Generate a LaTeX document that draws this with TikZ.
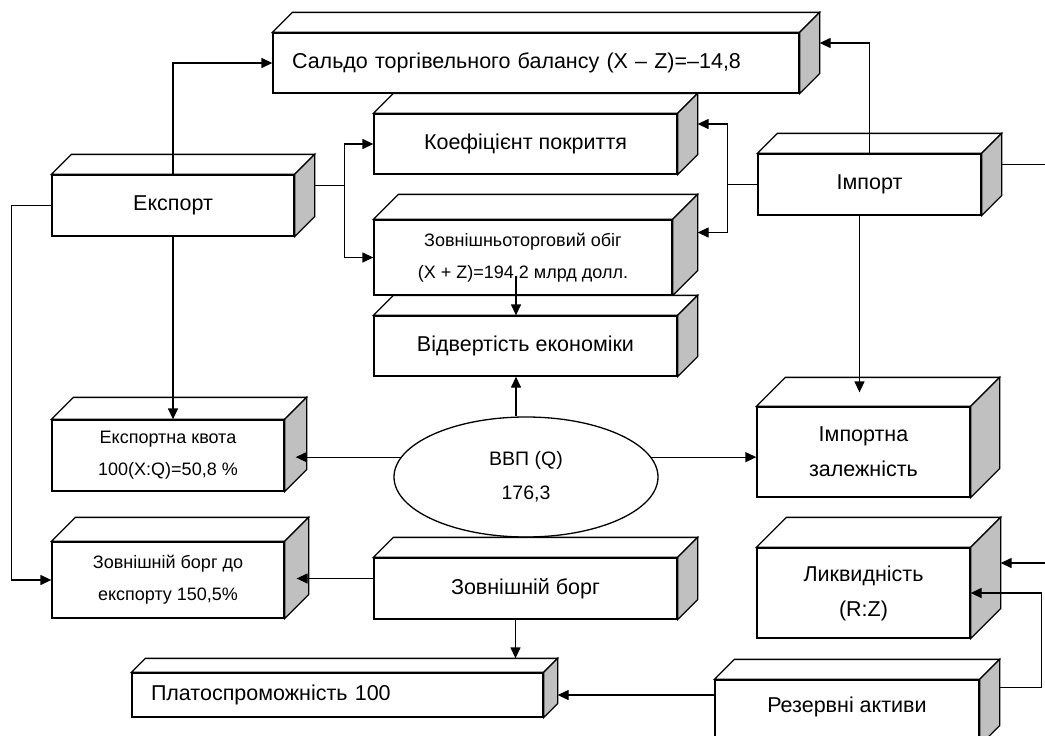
\documentclass[tikz,border=0pt]{standalone}
\usepackage{fontspec}
\setmainfont{Liberation Sans}
\usetikzlibrary{shapes.geometric}
\usetikzlibrary{arrows.meta}
\definecolor{sidegray}{RGB}{192,192,192}

\newcommand{\cubefont}{\fontsize{21.5}{35}\selectfont}
\newcommand{\cubesmall}{\fontsize{18}{32}\selectfont}

\tikzset{
  cube/.style={draw, fill=white, inner sep=0pt, align=center, font=\cubefont,
    append after command={\pgfextra{\let\cubenode\tikzlastnode
      \filldraw[fill=white] (\cubenode.north west) -- ++(#1pt,#1pt) -- ([shift={(#1pt,#1pt)}]\cubenode.north east) -- (\cubenode.north east) -- cycle;
      \filldraw[fill=sidegray] (\cubenode.north east) -- ++(#1pt,#1pt) -- ([shift={(#1pt,#1pt)}]\cubenode.south east) -- (\cubenode.south east) -- cycle;
      \coordinate (\cubenode-side) at ([shift={(#1pt,#1pt)}]\cubenode.east);
      \coordinate (\cubenode-mid) at ([xshift=#1pt/2]\cubenode.east);
    }}},
  arr/.style={-{Triangle[length=11pt,width=10pt]}},
}

\begin{document}
\begin{tikzpicture}[x=1pt, y=-1pt, line width=1.3pt]

    \useasboundingbox (0,0) rectangle (1045,736);

    %nodes
    \node[cube=20, minimum width=526, minimum height=60, inner xsep=19pt, text width=488pt, align=left] (saldo) at (536,63) {Сальдо торгівельного балансу (X – Z)=–14,8};
    \node[cube=20, minimum width=303, minimum height=60] (coef) at (525.5,144) {Коефіцієнт покриття};
    \node[cube=25, minimum width=298, minimum height=75, font=\cubesmall] (trade) at (523,257.5) {Зовнішньоторговий обіг\\(X + Z)=194,2 млрд долл.};
    \node[cube=20, minimum width=303, minimum height=60] (open) at (525.5,346) {Відвертість економіки};
    \node[cube=20, minimum width=242, minimum height=61] (export) at (173,205.5) {Експорт};
    \node[cube=20, minimum width=223, minimum height=61] (import) at (869.5,184.5) {Імпорт};
    \node[cube=22, minimum width=232, minimum height=71, font=\cubesmall] (expquota) at (168,455.5) {Експортна квота\\100(X:Q)=50,8 \%};
    \node[cube=24, minimum width=232, minimum height=76, font=\cubesmall] (debtexp) at (168,580) {Зовнішній борг до\\експорту 150,5\%};
    \node[ellipse, draw, fill=white, minimum width=264, minimum height=120, inner sep=0pt, align=center, font=\fontsize{19.5}{34}\selectfont] (gdp) at (526,477) {ВВП (Q)\\176,3};
    \node[cube=20, minimum width=303, minimum height=61] (debt) at (525.5,588.5) {Зовнішній борг};
    \node[cube=29, minimum width=213, minimum height=90] (impdep) at (863.5,452) {Імпортна\\залежність};
    \node[cube=30, minimum width=213, minimum height=90] (liquid) at (863.5,593) {Ликвидність\\(R:Z)};
    \node[cube=20, minimum width=264, text height=32.5pt, text depth=32.5pt] (reserve) at (847,712.5) {Резервні активи};
    \node[cube=14, minimum width=411, minimum height=44, inner xsep=19pt, text width=373pt, align=left] (solv) at (337.5,695) {Платоспроможність 100};

    \coordinate (tradeout) at ([shift={(-7pt,20pt)}]trade.south);
    \coordinate (gdptop) at ([xshift=-10pt]gdp.north);
    \coordinate (impout) at ([xshift=-10pt]import.south);
    \coordinate (debtout) at ([yshift=10pt]debt.west);
    \coordinate (debtbot) at ([xshift=-10pt]debt.south);
    \coordinate (solvend) at ([xshift=14pt]solv.east);
    \coordinate (resout) at ([shift={(20pt,-8pt)}]reserve.north east);

    % edges
    \draw[arr] (export.north) |- (saldo.west);
    \draw[arr] (export-side) -- ++(30pt,0) |- (coef.west);
    \draw[arr] (export-side) -- ++(30pt,0) |- (trade.west);
    \draw[arr] (export.west) -- ++(-40pt,0) |- (debtexp.west);
    \draw[arr] (export.south) -- (export.south |- expquota.north);
    \draw[arr] (import.west) -- ++(-30pt,0) |- (coef-side);
    \draw[arr] (import.west) -- ++(-30pt,0) |- (trade-side);
    \draw[arr] (import.north) |- (saldo-side);
    \draw[arr] (import-side) -- ++(60pt,0) |- (liquid-side);
    \draw[arr, shorten >=14pt] (impout) -- (impout |- impdep.north);
    \draw[arr] (tradeout) -- (tradeout |- open.north);
    \draw[arr] (gdptop) -- (gdptop |- open.south);
    \draw[arr] (gdp.171) -- (gdp.171 -| expquota-mid);
    \draw[arr] (gdp.9) -- (gdp.9 -| impdep.west);
    \draw[arr] (debtout) -- (debtout -| debtexp-mid);
    \draw[arr, shorten >=14pt] (debtbot) -- (debtbot |- solv.north);
    \draw[arr] (solvend -| reserve.west) -- (solvend);
    \draw[arr] (resout) -- ++(42pt,0) |- (liquid.east);
\end{tikzpicture}
\end{document}
